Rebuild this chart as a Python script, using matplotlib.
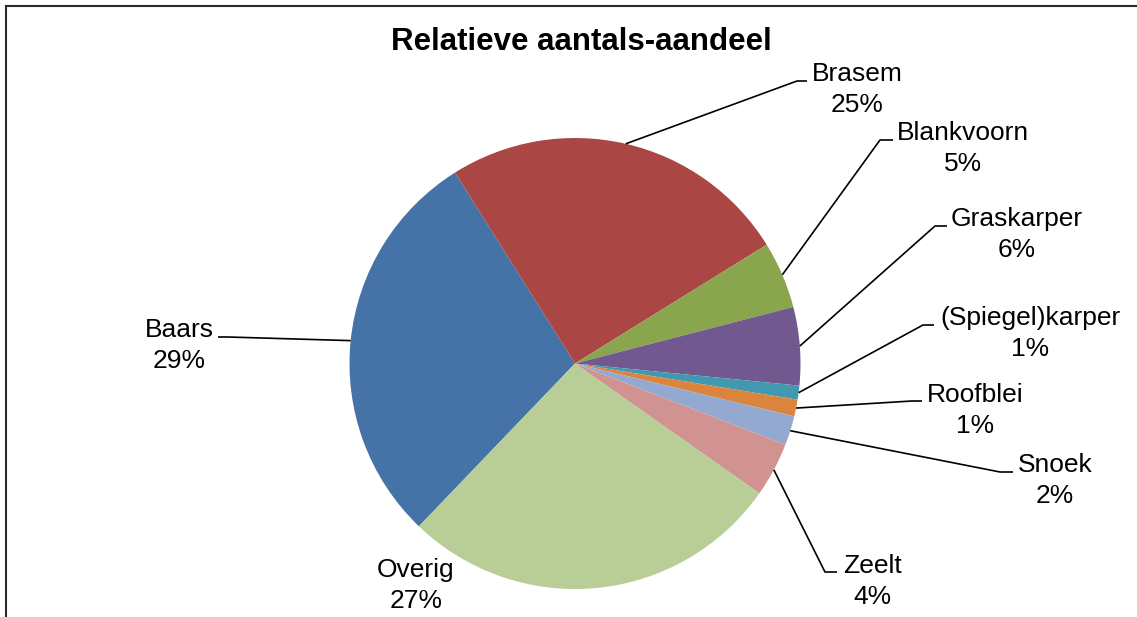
import numpy as np
import matplotlib
matplotlib.use('Agg')
import matplotlib.pyplot as plt
from matplotlib.lines import Line2D

plt.rcParams['font.family'] = ['Liberation Sans', 'DejaVu Sans']

# data (percent of numbers)
species = ['Baars', 'Brasem', 'Blankvoorn', 'Graskarper', '(Spiegel)karper',
           'Roofblei', 'Snoek', 'Zeelt', 'Overig']
share = [28.9, 25.1, 4.8, 5.6, 1.0, 1.2, 2.1, 3.9, 27.4]
colors = ['#4572A7', '#AA4643', '#89A54E', '#71588F', '#4198AF',
          '#DB843D', '#93A9CF', '#D19392', '#B9CD96']

W, H = 1137, 617
fig = plt.figure(figsize=(W / 100, H / 100), dpi=100)
ax = fig.add_axes([0, 0, 1, 1])

# pixel layout (y measured from top of image)
cx, cy, R = 575, 363.5, 225.5
start = 90 - 223.8

wedges, _ = ax.pie(share, colors=colors, startangle=start, counterclock=False,
                   center=(cx, H - cy), radius=R,
                   wedgeprops=dict(linewidth=0))
ax.set_xlim(0, W)
ax.set_ylim(0, H)
ax.set_aspect('equal')
ax.axis('off')

# label placement: text centre x, first-line baseline y, leader elbow (x0, x1, y)
label_pos = {
    'Baars':           (179, 337, (228, 218, 337)),
    'Brasem':          (857, 81, (797, 807, 81)),
    'Blankvoorn':      (963, 140, (880, 893, 140)),
    'Graskarper':      (1017, 226, (935, 947, 226)),
    '(Spiegel)karper': (1030, 325, (923, 934, 325)),
    'Roofblei':        (975, 402, (912, 922, 401)),
    'Snoek':           (1055, 472, (1000, 1013, 472)),
    'Zeelt':           (872, 573, (825, 837, 572)),
    'Overig':          (416, 577, None),
}

for w, name, val in zip(wedges, species, share):
    tx, ty, elbow = label_pos[name]
    ax.text(tx, H - ty, name, ha='center', va='baseline', fontsize=19)
    ax.text(tx, H - ty - 31, f'{round(val)}%', ha='center', va='baseline', fontsize=19)
    if elbow is None:
        continue
    mid = np.deg2rad((w.theta1 + w.theta2) / 2)
    sx = cx + R * np.cos(mid)
    sy = (H - cy) + R * np.sin(mid)
    ex0, ex1, ey = elbow
    ax.plot([sx, ex0, ex1], [sy, H - ey, H - ey], color='black', lw=1.2,
            solid_capstyle='butt')

ax.text(581, H - 49.5, 'Relatieve aantals-aandeel', ha='center', va='baseline',
        fontsize=22.5, fontweight='bold')

# chart frame (only top and left edges visible in crop)
fig.add_artist(Line2D([5.5 / W, 5.5 / W], [0, 1 - 6 / H], transform=fig.transFigure,
                      color='#2a2a2a', lw=1.5))
fig.add_artist(Line2D([5.5 / W, 1], [1 - 6 / H, 1 - 6 / H], transform=fig.transFigure,
                      color='#2a2a2a', lw=1.5))

fig.savefig('out.png', dpi=100, facecolor='white')
